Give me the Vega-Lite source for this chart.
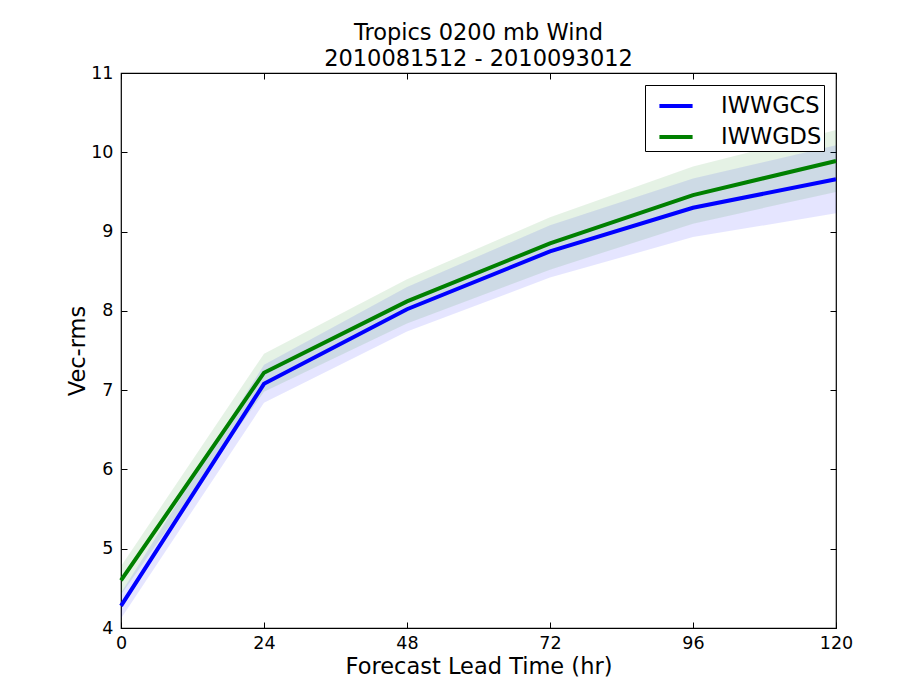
{
  "$schema": "https://vega.github.io/schema/vega-lite/v6.json",
  "width": 715,
  "height": 555,
  "autosize": "none",
  "padding": {"left": 121, "top": 73, "right": 81, "bottom": 66},
  "background": "white",
  "title": {
    "text": ["Tropics 0200 mb Wind", "2010081512 - 2010093012"],
    "font": "DejaVu Sans",
    "fontSize": 22.5,
    "fontWeight": "normal",
    "color": "#000000",
    "lineHeight": 26,
    "offset": -6,
    "anchor": "middle"
  },
  "config": {
    "view": {"stroke": "#000000", "strokeWidth": 1.2},
    "font": "DejaVu Sans",
    "axis": {
      "domain": false,
      "grid": false,
      "labelFlush": false,
      "tickColor": "#000000",
      "tickSize": -6,
      "labelColor": "#000000",
      "labelFont": "DejaVu Sans",
      "labelFontSize": 17.5,
      "titleFont": "DejaVu Sans",
      "titleFontSize": 22.5,
      "titleFontWeight": "normal",
      "titleColor": "#000000"
    }
  },
  "data": {
    "values": [
      {"model": "IWWGCS", "hour": 0, "mean": 4.28, "lo": 4.12, "hi": 4.44},
      {"model": "IWWGCS", "hour": 24, "mean": 7.08, "lo": 6.84, "hi": 7.32},
      {"model": "IWWGCS", "hour": 48, "mean": 8.02, "lo": 7.74, "hi": 8.30},
      {"model": "IWWGCS", "hour": 72, "mean": 8.75, "lo": 8.42, "hi": 9.08},
      {"model": "IWWGCS", "hour": 96, "mean": 9.30, "lo": 8.93, "hi": 9.67},
      {"model": "IWWGCS", "hour": 120, "mean": 9.66, "lo": 9.23, "hi": 10.09},
      {"model": "IWWGDS", "hour": 0, "mean": 4.60, "lo": 4.42, "hi": 4.78},
      {"model": "IWWGDS", "hour": 24, "mean": 7.22, "lo": 6.98, "hi": 7.46},
      {"model": "IWWGDS", "hour": 48, "mean": 8.12, "lo": 7.84, "hi": 8.40},
      {"model": "IWWGDS", "hour": 72, "mean": 8.85, "lo": 8.52, "hi": 9.18},
      {"model": "IWWGDS", "hour": 96, "mean": 9.46, "lo": 9.10, "hi": 9.82},
      {"model": "IWWGDS", "hour": 120, "mean": 9.89, "lo": 9.50, "hi": 10.28}
    ]
  },
  "layer": [
    {
      "mark": {"type": "area", "fillOpacity": 0.1},
      "encoding": {
        "x": {"field": "hour", "type": "quantitative", "scale": {"domain": [0, 120], "nice": false},
              "axis": {"orient": "top", "values": [0, 24, 48, 72, 96, 120], "labels": false, "title": null}},
        "y": {"field": "lo", "type": "quantitative", "scale": {"domain": [4, 11], "nice": false},
              "axis": {"orient": "right", "values": [4, 5, 6, 7, 8, 9, 10, 11], "labels": false, "title": null}},
        "y2": {"field": "hi"},
        "color": {"field": "model", "type": "nominal",
                  "scale": {"domain": ["IWWGCS", "IWWGDS"], "range": ["#0000ff", "#008000"]}}
      }
    },
    {
      "mark": {"type": "line", "strokeWidth": 4},
      "encoding": {
        "x": {"field": "hour", "type": "quantitative",
              "axis": {"orient": "bottom", "values": [0, 24, 48, 72, 96, 120], "title": "Forecast Lead Time (hr)", "labelPadding": 12, "titlePadding": 4}},
        "y": {"field": "mean", "type": "quantitative",
              "axis": {"orient": "left", "values": [4, 5, 6, 7, 8, 9, 10, 11], "title": "Vec-rms", "labelPadding": 14, "titlePadding": 1}},
        "color": {"field": "model", "type": "nominal",
                  "legend": {
                    "title": null,
                    "orient": "top-right",
                    "offset": 12,
                    "strokeColor": "#000000",
                    "fillColor": "white",
                    "padding": 2,
                    "symbolType": "stroke",
                    "symbolStrokeWidth": 4,
                    "symbolSize": 1100,
                    "symbolOffset": 10,
                    "labelFont": "DejaVu Sans",
                    "labelFontSize": 22.5,
                    "labelColor": "#000000",
                    "labelOffset": 26,
                    "rowPadding": 0,
                    "encode": {"symbols": {"update": {"opacity": {"value": 1}, "strokeOpacity": {"value": 1}, "fillOpacity": {"value": 0}}}}
                  }}
      }
    }
  ],
  "resolve": {"axis": {"x": "independent", "y": "independent"}}
}
